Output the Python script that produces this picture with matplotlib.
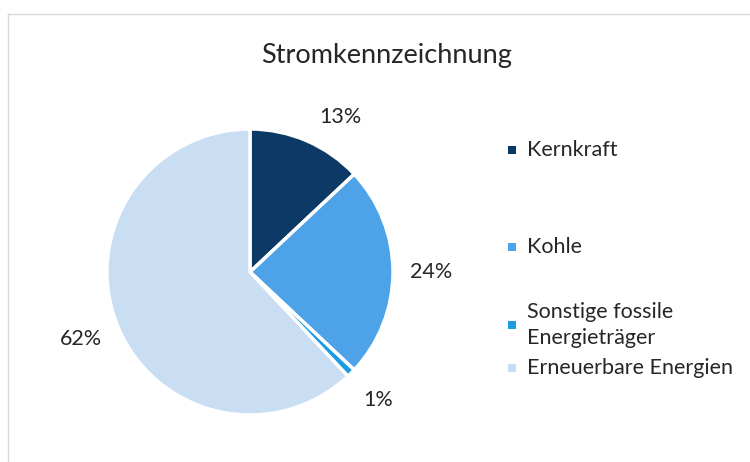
import matplotlib
matplotlib.use("Agg")
import matplotlib.pyplot as plt
from matplotlib.patches import Rectangle
from matplotlib.lines import Line2D

categories = ["Kernkraft", "Kohle", "Sonstige fossile\nEnergieträger", "Erneuerbare Energien"]
values = [13, 24, 1, 62]
colors = ["#0c3966", "#4da2e8", "#1b9be2", "#c9ddf3"]
title = "Stromkennzeichnung"

plt.rcParams['font.family'] = ['Lato', 'DejaVu Sans']
txt_col = "#262626"

W, H = 750, 462
fig = plt.figure(figsize=(7.5, 4.62), dpi=100)
fig.patch.set_facecolor("white")

# light frame (top and left edges visible)
fig.add_artist(Line2D([8 / W, 1.0], [1 - 14 / H, 1 - 14 / H], color="#d9d9d9", lw=1))
fig.add_artist(Line2D([8 / W, 8 / W], [0, 1 - 14 / H], color="#d9d9d9", lw=1))

cx, cy, r = 250, 272, 143
ax = fig.add_axes([(cx - r) / W, 1 - (cy + r) / H, 2 * r / W, 2 * r / H])
wedges, texts = ax.pie(values, colors=colors, startangle=90, counterclock=False,
                       labels=[f"{v}%" for v in values], labeldistance=1.27,
                       wedgeprops=dict(edgecolor="white", linewidth=2.5),
                       textprops=dict(fontsize=15.5, color=txt_col, ha="center", va="center"))
ax.set_aspect("equal")
ax.set_xlim(-1, 1)
ax.set_ylim(-1, 1)
# nudge 13% label to Excel's placement
x, y = texts[0].get_position()
texts[0].set_position((x + 0.13, y - 0.08))

fig.text(387 / W, 1 - 55 / H, title, ha="center", va="center", fontsize=19.5, color=txt_col)

# legend drawn manually
leg_y = [150, 247, 325, 368]
for lab, col, yy in zip(categories, colors, leg_y):
    fig.add_artist(Rectangle((508 / W, 1 - (yy + 4) / H), 8 / W, 8 / H,
                             facecolor=col, edgecolor="none", transform=fig.transFigure))
    fig.text(527 / W, 1 - yy / H, lab, ha="left", va="center", fontsize=15.5,
             color=txt_col, linespacing=1.35)

fig.savefig("out.png", dpi=100, facecolor="white")
